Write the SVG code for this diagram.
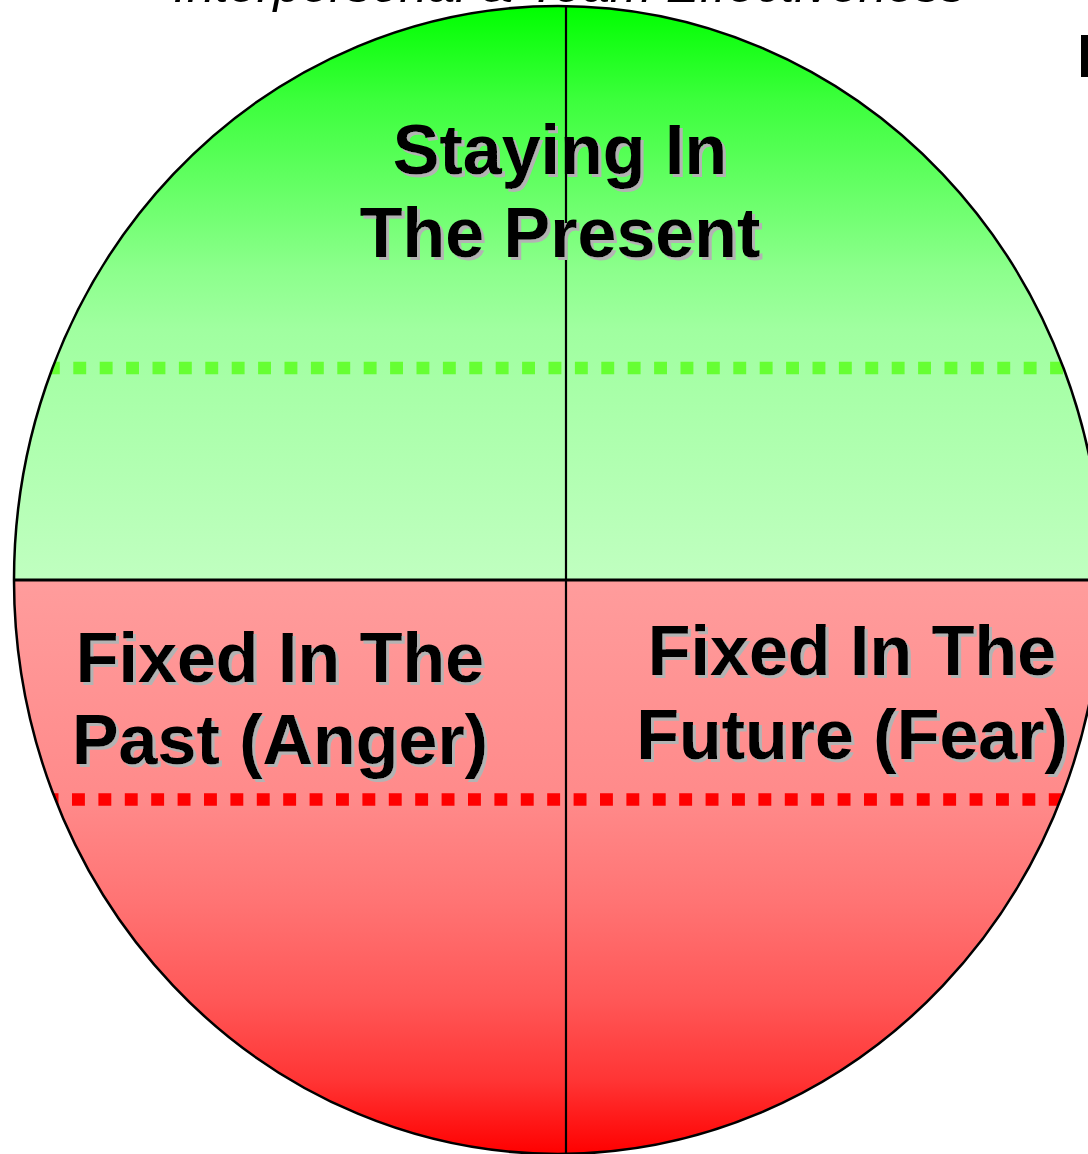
<svg xmlns="http://www.w3.org/2000/svg" width="1088" height="1154" viewBox="0 0 1088 1154">
<style>
.lbl{font-family:"Liberation Sans",Arial,sans-serif;font-weight:bold;font-size:70px;fill:#000;text-anchor:middle;filter:url(#sh)}
.title{font-family:"Liberation Sans",Arial,sans-serif;font-style:italic;font-size:50.3px;fill:#000;text-anchor:middle}
.edge{fill:none;stroke:#000}
.dots{fill:none;stroke-width:12.5;stroke-dasharray:12.9 13.5}
</style>
<defs>
<linearGradient id="gG" gradientUnits="userSpaceOnUse" x1="0" y1="6" x2="0" y2="580">
<stop offset="0" stop-color="#00ff00"/>
<stop offset="0.164" stop-color="#3cff3c"/>
<stop offset="0.46" stop-color="#8cff8c"/>
<stop offset="0.564" stop-color="#a0ffa0"/>
<stop offset="1" stop-color="#c0ffc0"/>
</linearGradient>
<linearGradient id="gR" gradientUnits="userSpaceOnUse" x1="0" y1="580" x2="0" y2="1154">
<stop offset="0" stop-color="#ff9c9c"/>
<stop offset="0.383" stop-color="#ff8a8a"/>
<stop offset="0.557" stop-color="#ff7474"/>
<stop offset="0.732" stop-color="#ff5757"/>
<stop offset="0.871" stop-color="#ff3535"/>
<stop offset="1" stop-color="#ff0000"/>
</linearGradient>
<clipPath id="ell"><ellipse cx="558" cy="580" rx="544" ry="574"/></clipPath>
<filter id="sh" x="-5%" y="-20%" width="115%" height="150%">
<feOffset in="SourceAlpha" dx="3" dy="3" result="o"/>
<feFlood flood-color="#b3b3b3"/>
<feComposite in2="o" operator="in" result="s"/>
<feMerge><feMergeNode in="s"/><feMergeNode in="SourceGraphic"/></feMerge>
</filter>
</defs>
<text class="title" x="569" y="2">Interpersonal &amp; Team Effectiveness</text>
<rect x="1081" y="35" width="7" height="42" fill="#000"/>
<g id="present">
<path d="M14,580 A544,574 0 0 1 1102,580 Z" fill="url(#gG)"/>
</g>
<g id="past-future">
<path d="M14,580 A544,574 0 0 0 1102,580 Z" fill="url(#gR)"/>
</g>
<g id="connectors" clip-path="url(#ell)">
<line class="dots" x1="20.5" y1="368" x2="1088" y2="368" stroke="#66ff33"/>
<line class="dots" x1="19.2" y1="799.5" x2="1088" y2="799.5" stroke="#ff0000"/>
<line class="edge" x1="566" y1="0" x2="566" y2="1154" stroke-width="2.2"/>
<line class="edge" x1="0" y1="580" x2="1088" y2="580" stroke-width="3"/>
</g>
<ellipse class="edge" cx="558" cy="580" rx="544" ry="574" stroke-width="2.5"/>
<g id="label-present">
<text class="lbl" x="560" y="174">Staying In</text>
<text class="lbl" x="560" y="257">The Present</text>
</g>
<g id="label-past">
<text class="lbl" x="280" y="682">Fixed In The</text>
<text class="lbl" x="280" y="764">Past (Anger)</text>
</g>
<g id="label-future">
<text class="lbl" x="852" y="675">Fixed In The</text>
<text class="lbl" x="852" y="759">Future (Fear)</text>
</g>
</svg>
